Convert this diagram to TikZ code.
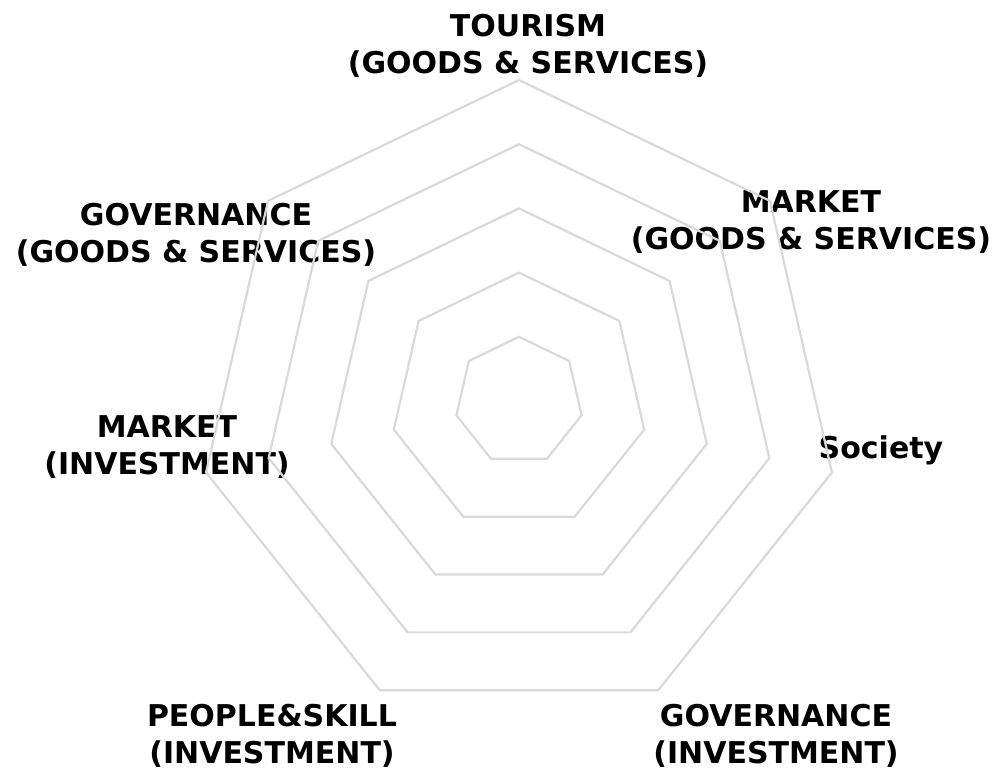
\documentclass[tikz,border=0pt]{standalone}
\usepackage{fontspec}
\setmainfont{DejaVu Sans}
\usepackage{tikz}
\usetikzlibrary{positioning}
\definecolor{gridgray}{RGB}{217,217,217}

\begin{document}
\begin{tikzpicture}[x=1pt,y=-1pt,
		axislabel/.style={font=\bfseries\fontsize{30}{36.5}\selectfont, align=center, inner sep=0pt},
		ring/.style={draw=gridgray, line width=2.2pt, line join=miter}]
		\useasboundingbox (0,0) rectangle (999,769);
		% axis labels
		\node[axislabel] (tourism) at (528,46) {TOURISM\\(GOODS \& SERVICES)}; %% top
		\node[axislabel] (marketgs) at (811,222) {MARKET\\(GOODS \& SERVICES)}; %% upper right
		\node[axislabel] (society) at (881,450) {Society}; %% right
		\node[axislabel] (governanceinv) at (776,736) {GOVERNANCE\\(INVESTMENT)}; %% lower right
		\node[axislabel] (peopleinv) at (272,736) {PEOPLE\&SKILL\\(INVESTMENT)}; %% lower left
		\node[axislabel] (marketinv) at (167,447) {MARKET\\(INVESTMENT)}; %% left
		\node[axislabel] (governancegs) at (196,235) {GOVERNANCE\\(GOODS \& SERVICES)}; %% upper left
		% grid rings
		\begin{scope}[shift={(519,401)}]
			\foreach \k in {1,...,5}
				\draw[ring] (-90:{64.2*\k}) \foreach \i in {1,...,6} { -- ({-90+\i*360/7}:{64.2*\k}) } -- cycle;
		\end{scope}
	\end{tikzpicture}
\end{document}
